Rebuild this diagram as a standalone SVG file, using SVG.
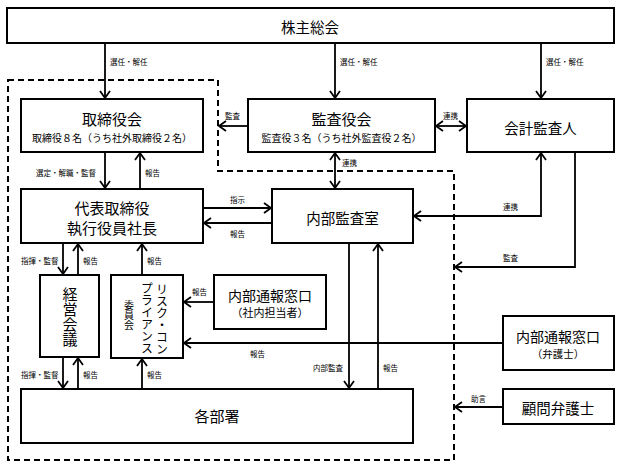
<svg xmlns="http://www.w3.org/2000/svg" width="621" height="468" viewBox="0 0 621 468">
<style>
.box{fill:#fff;stroke:#000;stroke-width:2}
.ln{fill:none;stroke:#000;stroke-width:1.8}
.t{font-family:"Noto Sans CJK JP","Noto Sans",sans-serif;fill:#000;text-anchor:middle;dominant-baseline:central}
.v{font-family:"Noto Sans CJK JP","Noto Sans",sans-serif;fill:#000;writing-mode:vertical-rl;text-anchor:start;dominant-baseline:central}
.lb{font-family:"Noto Sans CJK JP","Noto Sans",sans-serif;fill:#000;font-size:7.5px;dominant-baseline:central}
</style>
<defs>
<marker id="a" markerWidth="12" markerHeight="12" refX="9" refY="6" orient="auto-start-reverse" markerUnits="userSpaceOnUse">
<path d="M2,1 L9,6 L2,11" fill="none" stroke="#000" stroke-width="1.8"/>
</marker>
</defs>
<rect width="621" height="468" fill="#fff"/>
<path d="M8,80 H218 V171 H454 V460 H8 Z" fill="none" stroke="#000" stroke-width="2" stroke-dasharray="6 4"/>

<g id="kabunushi"><rect class="box" x="7" y="8" width="607" height="35"/><text class="t" x="310" y="26" font-size="14.5">株主総会</text></g>
<g id="torishimariyakukai"><rect class="box" x="21" y="99" width="182" height="53"/><text class="t" x="112" y="118" font-size="15">取締役会</text><text class="t" x="112" y="137" font-size="10">取締役８名（うち社外取締役２名）</text></g>
<g id="kansayakukai"><rect class="box" x="248" y="99" width="187" height="53"/><text class="t" x="341.5" y="118" font-size="15">監査役会</text><text class="t" x="341.5" y="137" font-size="10">監査役３名（うち社外監査役２名）</text></g>
<g id="kaikei"><rect class="box" x="467" y="99" width="147" height="53"/><text class="t" x="540.5" y="127" font-size="14.5">会計監査人</text></g>
<g id="daihyo"><rect class="box" x="21" y="189" width="182" height="54"/><text class="t" x="112" y="207" font-size="15">代表取締役</text><text class="t" x="112" y="227" font-size="15">執行役員社長</text></g>
<g id="naibukansa"><rect class="box" x="272" y="189" width="141" height="54"/><text class="t" x="342.5" y="217" font-size="14.5">内部監査室</text></g>
<g id="keiei"><rect class="box" x="40" y="275" width="59" height="82"/><text class="v" x="70" y="287" font-size="15">経営会議</text></g>
<g id="risk"><rect class="box" x="111" y="275" width="72" height="83"/>
<text class="v" x="162" y="283" font-size="12">リスク・コン</text>
<text class="v" x="147" y="282" font-size="12">プライアンス</text>
<text class="v" x="129" y="300" font-size="10">委員会</text></g>
<g id="tsuho-shanai"><rect class="box" x="214" y="275" width="112" height="54"/><text class="t" x="270" y="295" font-size="14">内部通報窓口</text><text class="t" x="270" y="312" font-size="11">（社内担当者）</text></g>
<g id="tsuho-bengoshi"><rect class="box" x="503" y="316" width="111" height="54"/><text class="t" x="558" y="336" font-size="14">内部通報窓口</text><text class="t" x="558" y="353" font-size="10.5">（弁護士）</text></g>
<g id="komon"><rect class="box" x="503" y="389" width="111" height="35"/><text class="t" x="558" y="407" font-size="14.5">顧問弁護士</text></g>
<g id="kakubusho"><rect class="box" x="21" y="389" width="392" height="54"/><text class="t" x="217" y="415" font-size="15">各部署</text></g>

<g id="connectors">
<path class="ln" d="M105,43 V98" marker-end="url(#a)"/>
<path class="ln" d="M335,43 V98" marker-end="url(#a)"/>
<path class="ln" d="M541,43 V98" marker-end="url(#a)"/>
<path class="ln" d="M248,126 H219" marker-end="url(#a)"/>
<path class="ln" d="M436,126 H466" marker-start="url(#a)" marker-end="url(#a)"/>
<path class="ln" d="M335,153 V188" marker-start="url(#a)" marker-end="url(#a)"/>
<path class="ln" d="M105,152 V188" marker-end="url(#a)"/>
<path class="ln" d="M140,189 V153" marker-end="url(#a)"/>
<path class="ln" d="M203,208 H271" marker-end="url(#a)"/>
<path class="ln" d="M272,223 H204" marker-end="url(#a)"/>
<path class="ln" d="M541,153 V216 H414" marker-start="url(#a)" marker-end="url(#a)"/>
<path class="ln" d="M575,152 V267 H455" marker-end="url(#a)"/>
<path class="ln" d="M63,243 V274" marker-end="url(#a)"/>
<path class="ln" d="M78,275 V244" marker-end="url(#a)"/>
<path class="ln" d="M142,275 V244" marker-end="url(#a)"/>
<path class="ln" d="M214,302 H184" marker-end="url(#a)"/>
<path class="ln" d="M503,343 H184" marker-end="url(#a)"/>
<path class="ln" d="M349,243 V388" marker-end="url(#a)"/>
<path class="ln" d="M378,389 V244" marker-end="url(#a)"/>
<path class="ln" d="M63,357 V388" marker-end="url(#a)"/>
<path class="ln" d="M78,389 V358" marker-end="url(#a)"/>
<path class="ln" d="M142,389 V359" marker-end="url(#a)"/>
<path class="ln" d="M503,407 H455" marker-end="url(#a)"/>

<text class="lb" x="110" y="61">選任・解任</text>
<text class="lb" x="340" y="61">選任・解任</text>
<text class="lb" x="546" y="61">選任・解任</text>
<text class="lb" x="225" y="115">監査</text>
<text class="lb" x="443" y="115">連携</text>
<text class="lb" x="342" y="162">連携</text>
<text class="lb" x="36" y="172">選定・解職・監督</text>
<text class="lb" x="145" y="172">報告</text>
<text class="lb" x="230" y="199">指示</text>
<text class="lb" x="230" y="233">報告</text>
<text class="lb" x="503" y="206">連携</text>
<text class="lb" x="503" y="257">監査</text>
<text class="lb" x="21" y="260">指揮・監督</text>
<text class="lb" x="83" y="260">報告</text>
<text class="lb" x="147" y="260">報告</text>
<text class="lb" x="192" y="291">報告</text>
<text class="lb" x="250" y="353">報告</text>
<text class="lb" x="313" y="367">内部監査</text>
<text class="lb" x="383" y="367">報告</text>
<text class="lb" x="21" y="374">指揮・監督</text>
<text class="lb" x="83" y="374">報告</text>
<text class="lb" x="147" y="374">報告</text>
<text class="lb" x="471" y="398">助言</text>
</g>
</svg>
